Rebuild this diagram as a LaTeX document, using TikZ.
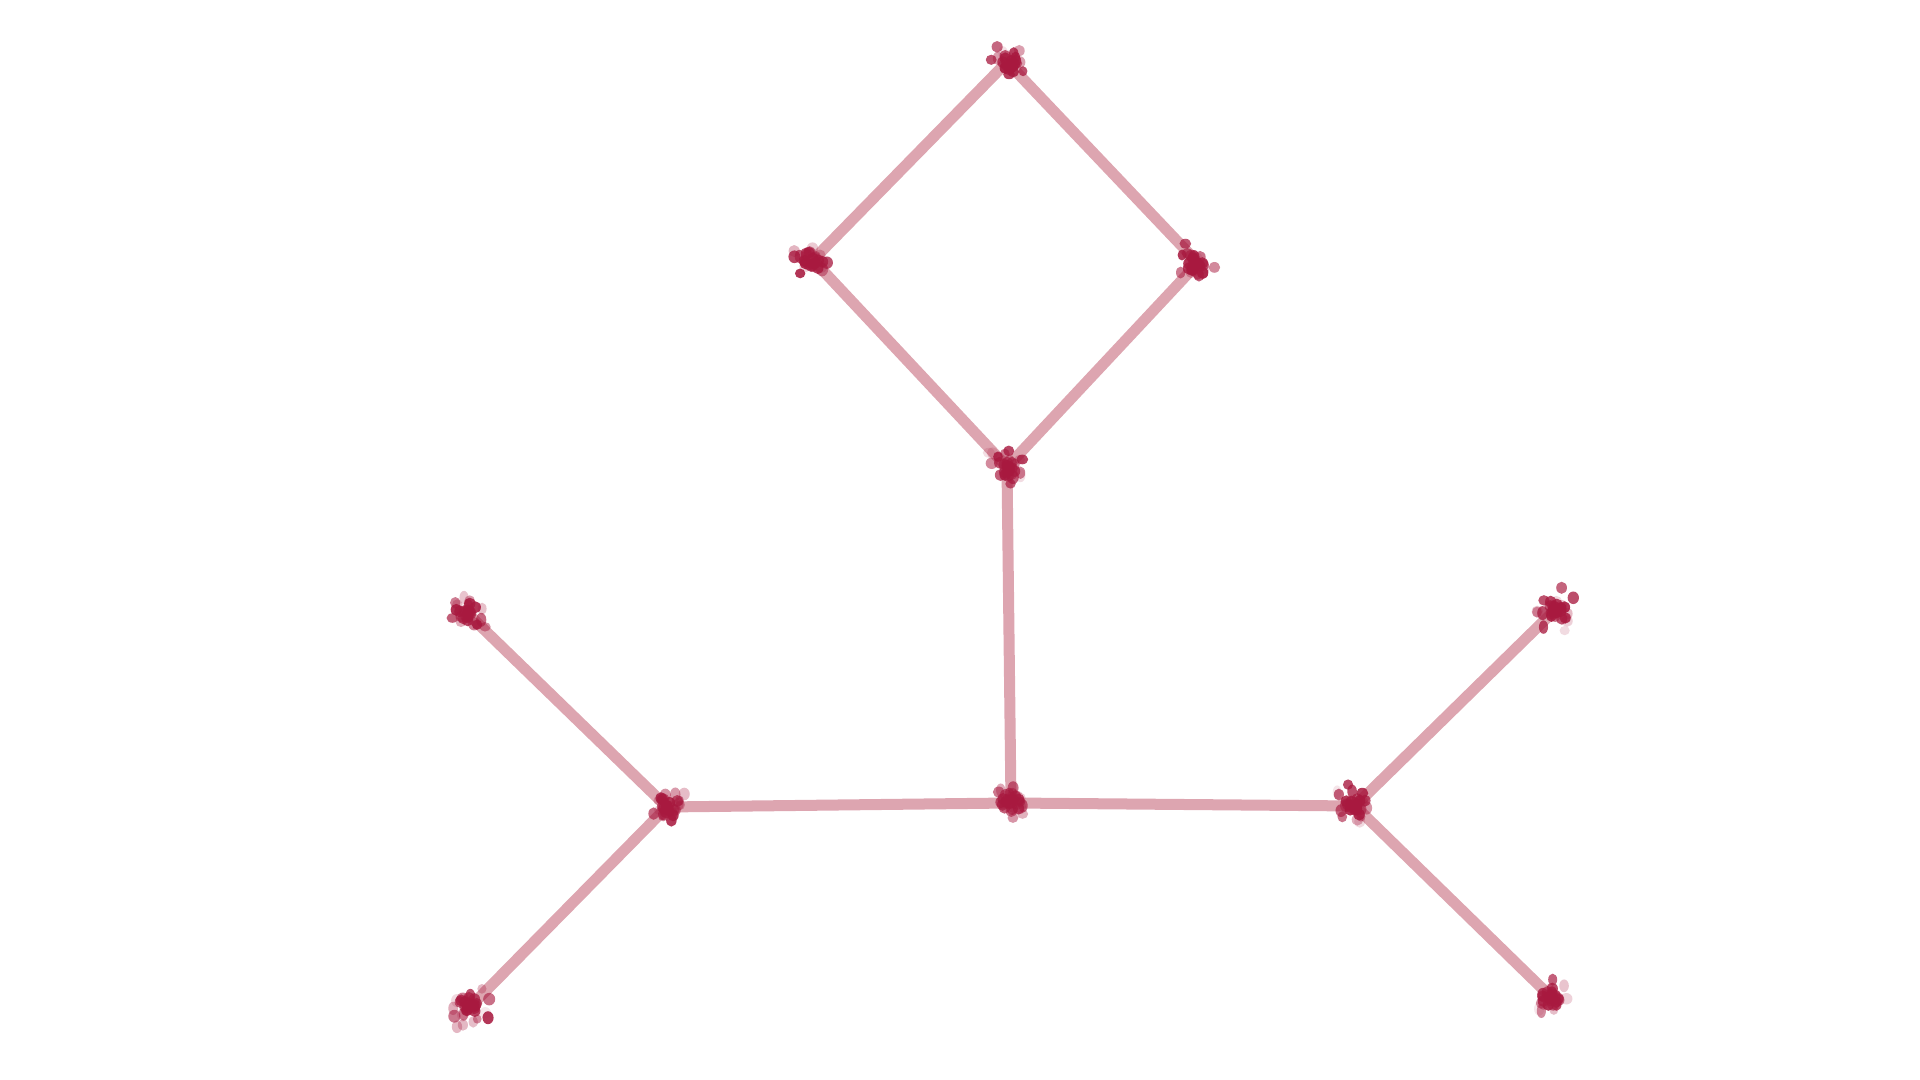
\documentclass[tikz,border=0pt]{standalone}
\usepackage{tikz}
\usetikzlibrary{positioning}

\definecolor{edgepink}{HTML}{DDA5B0}
\definecolor{dotred}{HTML}{A8193F}

\begin{document}
\begin{tikzpicture}[x=0.01cm,y=-0.01cm]

        \useasboundingbox (0,0) rectangle (1920,1080);

        \begin{scope}[every node/.style={inner sep=0pt, minimum size=0pt}]
          \node (top)    at (1007,62)  {};
          \node (west)   at (813,260)  {};
          \node (east)   at (1198,263) {};
          \node (bottom) at (1007,467) {};
          \node (centre) at (1011,803) {};
          \node (lhub)   at (667,807)  {};
          \node (rhub)   at (1355,806) {};
          \node (lup)    at (467,613)  {};
          \node (ldown)  at (470,1007) {};
          \node (rup)    at (1555,610) {};
          \node (rdown)  at (1552,998) {};
        \end{scope}

        \begin{scope}[every edge/.style={draw=edgepink, line width=0.11cm}]
          \path (top)    edge (west);
          \path (top)    edge (east);
          \path (west)   edge (bottom);
          \path (east)   edge (bottom);
          \path (bottom) edge (centre);
          \path (centre) edge (lhub);
          \path (centre) edge (rhub);
          \path (lhub)   edge (lup);
          \path (lhub)   edge (ldown);
          \path (rhub)   edge (rup);
          \path (rhub)   edge (rdown);
        \end{scope}

        % scattered dots round every vertex: a dense core, then a loose halo
        \pgfmathsetseed{11}
        \foreach \nd in {top,west,east,bottom,centre,lhub,rhub,lup,ldown,rup,rdown} {
          \foreach \i in {1,...,14} {
            \pgfmathsetmacro\dx{7*rand+4*rand}
            \pgfmathsetmacro\dy{7*rand+4*rand}
            \pgfmathsetmacro\op{0.75+0.15*rand}
            \fill[dotred, opacity=\op] ([shift={(\dx,\dy)}]\nd) ellipse [x radius=1.6pt, y radius=1.7pt];
          }
          \foreach \i in {1,...,16} {
            \pgfmathsetmacro\dx{13*rand+10*rand}
            \pgfmathsetmacro\dy{13*rand+10*rand}
            \pgfmathsetmacro\rx{1.5+0.25*rand}
            \pgfmathsetmacro\ry{1.65+0.35*rand}
            \pgfmathsetmacro\op{0.5+0.4*rand}
            \fill[dotred, opacity=\op] ([shift={(\dx,\dy)}]\nd) ellipse [x radius=\rx pt, y radius=\ry pt];
          }
        }

      \end{tikzpicture}
\end{document}
